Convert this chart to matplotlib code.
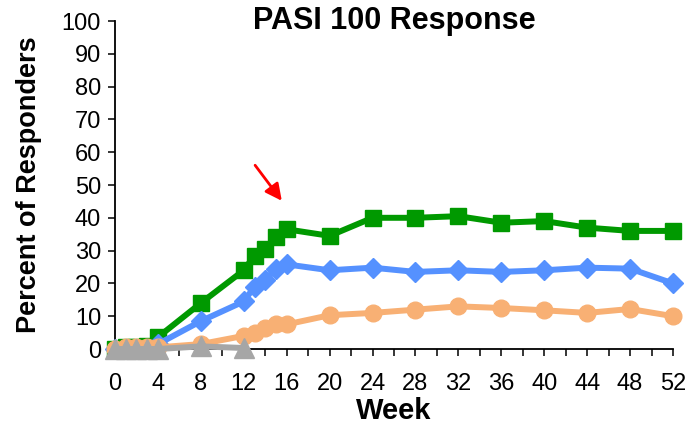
import matplotlib
matplotlib.use("Agg")
import matplotlib.pyplot as plt

plt.rcParams['font.family'] = ['Liberation Sans', 'DejaVu Sans']

weeks = [0, 1, 2, 3, 4, 8, 12, 13, 14, 15, 16, 20, 24, 28, 32, 36, 40, 44, 48, 52]
green = [0, 0.5, 0.5, 1, 3.6, 14, 24, 28.5, 30.5, 34, 36.5, 34.5, 40, 40, 40.5, 38.5, 39, 37, 36, 36]
blue = [0, 0, 0, 0, 1.5, 8.5, 14.5, 19, 21, 24.5, 25.8, 24, 24.8, 23.5, 24, 23.5, 24, 24.8, 24.5, 20]
orange = [0, 0.5, 0.5, 0.5, 0.5, 1.5, 4, 5, 6.5, 7.5, 7.5, 10.3, 11, 12, 13, 12.5, 11.8, 11, 12.2, 10]
gray_weeks = [0, 1, 2, 3, 4, 8, 12]
gray = [0, 0, 0, 0, 0, 0.8, 0.3]

fig = plt.figure(figsize=(6.86, 4.25), dpi=100)
ax = fig.add_axes([115/686, 1 - 349/425, (673-115)/686, (349-21)/425])

ax.plot(weeks, green, color="#009900", lw=4.3, marker="s", ms=12, clip_on=False, zorder=3)
ax.plot(weeks, blue, color="#5591ff", lw=4.3, marker="D", ms=10.5, clip_on=False, zorder=4)
ax.plot(weeks, orange, color="#f8b074", lw=4.3, marker="o", ms=12, clip_on=False, zorder=5)
ax.plot(gray_weeks, gray, color="#a6a6a6", lw=4.3, marker="^", ms=14, clip_on=False, zorder=6)

ax.annotate("", xy=(15.7, 44.5), xytext=(12.9, 56.7),
            arrowprops=dict(arrowstyle="-|>,head_length=1.0,head_width=0.5", color="red", lw=2))

ax.set_xlim(0, 52)
ax.set_ylim(0, 100)
ax.set_xticks(range(0, 53, 4))
ax.set_xticks(range(0, 53, 2), minor=True)
ax.set_yticks(range(0, 101, 10))
ax.spines['top'].set_visible(False)
ax.spines['right'].set_visible(False)
for s in ['left', 'bottom']:
    ax.spines[s].set_linewidth(1.3)
ax.tick_params(axis='both', labelsize=17, width=1.1, length=5, direction='out')
ax.tick_params(axis='x', which='minor', width=1.1, length=5)
ax.tick_params(axis='x', pad=12)
ax.tick_params(axis='y', pad=5)

ax.set_title("PASI 100 Response", fontsize=22, fontweight="bold", pad=0, y=0.975)
ax.set_xlabel("Week", fontsize=21, fontweight="bold", labelpad=2)
ax.set_ylabel("Percent of Responders", fontsize=19.5, fontweight="bold", labelpad=14)

fig.savefig("out.png", dpi=100)
